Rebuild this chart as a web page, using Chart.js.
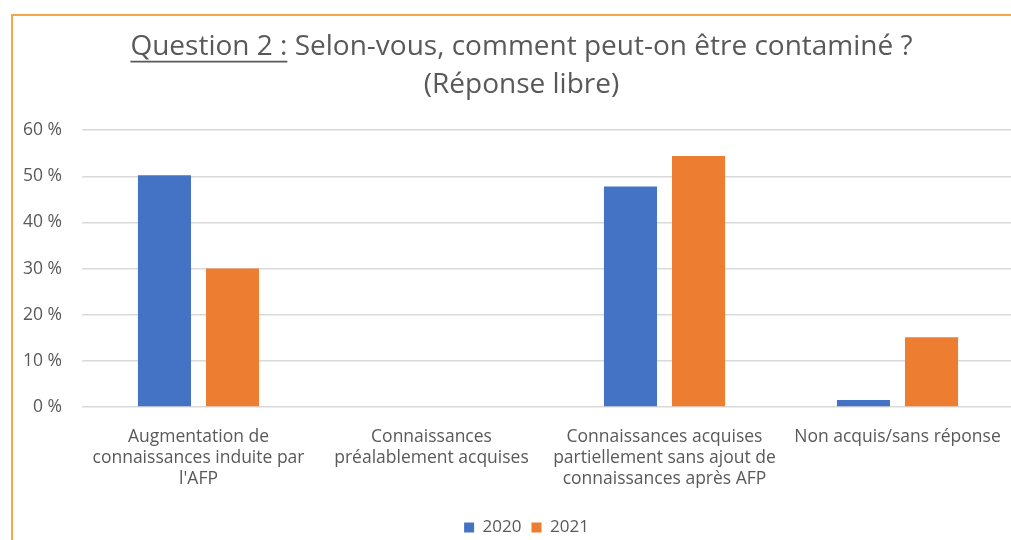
<!DOCTYPE html>
<html lang="fr">
<head>
    <meta charset="utf-8">
    <title>Question 2</title>
    <script src="https://cdn.jsdelivr.net/npm/chart.js"></script>
    <style>
        html, body { margin: 0; padding: 0; background: #fff; overflow: hidden; }
        #frame {
            position: absolute;
            left: 11px;
            top: 14px;
            width: 1030px;
            height: 560px;
            border-top: 2px solid #f5a84a;
            border-left: 2px solid #f5a84a;
        }
        #box { position: absolute; left: 0; top: 0; width: 1018px; height: 530px; }
    </style>
</head>
<body>
    <div id="frame">
        <div id="box"><canvas id="chart"></canvas></div>
    </div>

    <script>
        const categories = [
            ['Augmentation de', 'connaissances induite par', "l'AFP"],
            ['Connaissances', 'préalablement acquises'],
            ['Connaissances acquises', 'partiellement sans ajout de', 'connaissances après AFP'],
            'Non acquis/sans réponse'
        ];
        const values2020 = [50.2, 0, 47.8, 1.5];
        const values2021 = [30, 0, 54.4, 15.1];
        const yTicks = [0, 10, 20, 30, 40, 50, 60];

        const grey = '#595959';
        const font = '"Open Sans", "Liberation Sans", sans-serif';

        // the plot runs past the right edge of the crop; keep title and legend where they were
        const shiftPlugin = {
            id: 'shiftBoxes',
            afterLayout(chart) {
                if (chart.titleBlock) { chart.titleBlock.left += 8; chart.titleBlock.right += 8; }
                if (chart.legend) { chart.legend.left += 13; chart.legend.right += 13; }
            }
        };

        // underline the "Question 2 :" part of the title
        const underlinePlugin = {
            id: 'underlineTitle',
            afterDraw(chart) {
                const t = chart.titleBlock;
                if (!t) return;
                const ctx = chart.ctx;
                const opts = chart.options.plugins.title;
                const size = opts.font.size;
                const lineHeight = size * opts.font.lineHeight;
                ctx.save();
                ctx.font = size + 'px ' + font;
                const full = ctx.measureText(opts.text[0]).width;
                const part = ctx.measureText('Question 2 :').width;
                const cx = (t.left + t.right) / 2;
                const x0 = cx - full / 2;
                const y = t.top + opts.padding.top + lineHeight / 2 + size * 0.52;
                ctx.strokeStyle = grey;
                ctx.lineWidth = 1.8;
                ctx.beginPath();
                ctx.moveTo(x0, y);
                ctx.lineTo(x0 + part, y);
                ctx.stroke();
                ctx.restore();
            }
        };

        const ctx = document.getElementById('chart').getContext('2d');
        const chart = new Chart(ctx, {
            type: 'bar',
            data: {
                labels: categories,
                datasets: [
                    { label: '2020', data: values2020, backgroundColor: '#4472C4' },
                    { label: '2021', data: values2021, backgroundColor: '#ED7D31' }
                ]
            },
            options: {
                responsive: true,
                maintainAspectRatio: false,
                animation: false,
                categoryPercentage: 0.584,
                barPercentage: 0.78,
                layout: { padding: { left: 0, right: 17, top: 0, bottom: 0 } },
                scales: {
                    x: {
                        grid: { display: false, drawTicks: false },
                        border: { display: false },
                        ticks: {
                            color: grey,
                            padding: 19,
                            maxRotation: 0,
                            autoSkip: false,
                            font: { family: font, size: 17.5, lineHeight: 1.22 }
                        }
                    },
                    y: {
                        min: 0,
                        max: 60,
                        afterBuildTicks: (axis) => { axis.ticks = yTicks.map(v => ({ value: v })); },
                        afterFit: (axis) => { axis.width = 69; },
                        grid: { color: '#d9d9d9', lineWidth: 1.5, drawTicks: false },
                        border: { display: false },
                        ticks: {
                            color: grey,
                            padding: 20,
                            font: { family: font, size: 17.5 },
                            callback: (v) => v + ' %'
                        }
                    }
                },
                plugins: {
                    title: {
                        display: true,
                        text: ['Question 2 : Selon-vous, comment peut-on être contaminé ?', '(Réponse libre)'],
                        color: grey,
                        font: { family: font, size: 28, weight: 'normal', lineHeight: 1.36 },
                        padding: { top: 12, bottom: 26 }
                    },
                    legend: {
                        position: 'bottom',
                        labels: {
                            color: grey,
                            boxWidth: 10,
                            boxHeight: 10,
                            padding: 10,
                            font: { family: font, size: 17 }
                        }
                    },
                    tooltip: { enabled: false }
                }
            },
            plugins: [shiftPlugin, underlinePlugin]
        });
    </script>
</body>
</html>
